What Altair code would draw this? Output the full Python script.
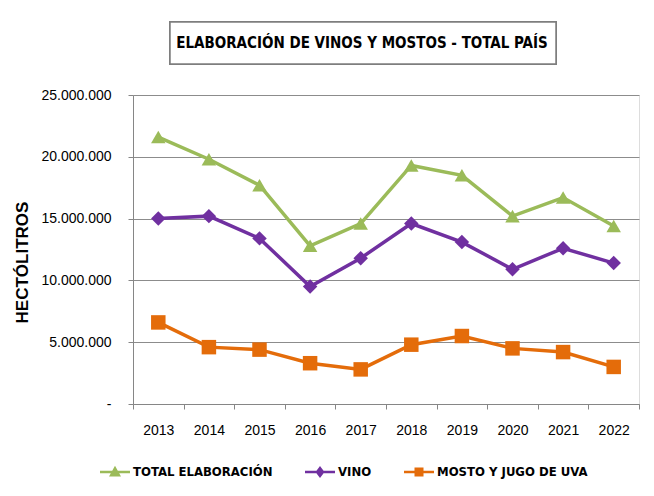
import altair as alt
import pandas as pd

years = ["2013", "2014", "2015", "2016", "2017", "2018", "2019", "2020", "2021", "2022"]
total = [21600000, 19800000, 17700000, 12800000, 14600000, 19300000, 18500000, 15200000, 16700000, 14400000]
vino = [15000000, 15200000, 13400000, 9500000, 11800000, 14600000, 13100000, 10900000, 12600000, 11400000]
mosto = [6600000, 4600000, 4400000, 3300000, 2800000, 4800000, 5500000, 4500000, 4200000, 3000000]
series = ["TOTAL ELABORACIÓN", "VINO", "MOSTO Y JUGO DE UVA"]
colors = ["#9BBB59", "#7030A0", "#E46C0A"]
shapes = ["triangle-up", "diamond", "square"]
legend_paths = [
    "M-1,-0.09H1V0.09H-1Z M0,-0.42L0.4,0.3H-0.4Z",
    "M-1,-0.09H1V0.09H-1Z M0,-0.4L0.3,0L0,0.4L-0.3,0Z",
    "M-1,-0.09H1V0.09H-1Z M-0.3,-0.3H0.3V0.3H-0.3Z",
]
title_text = ["ELABORACIÓN DE VINOS Y MOSTOS - TOTAL PAÍS"]

rows = []
for name, vals in zip(series, [total, vino, mosto]):
    for y, v in zip(years, vals):
        rows.append({"year": y, "value": v, "series": name})
df = pd.DataFrame(rows)

FONT = "DejaVu Sans Condensed"

x_enc = alt.X(
    "year:O",
    scale=alt.Scale(type="band", paddingInner=0, paddingOuter=0, domain=years),
    bandPosition=0.5,
    axis=alt.Axis(
        title=None, labelAngle=0, tickBand="extent", tickSize=5, labelPadding=14,
        labelFontSize=14, labelFont="Liberation Sans", labelColor="#000",
        domainColor="#868686", tickColor="#868686", grid=False,
    ),
)
y_enc = alt.Y(
    "value:Q",
    scale=alt.Scale(domain=[0, 25000000]),
    axis=alt.Axis(
        title="HECTÓLITROS", titleFontSize=17, titleFont="Liberation Sans", titleFontWeight="bold",
        titleColor="#000", titlePadding=9, titleY=167,
        values=[0, 5000000, 10000000, 15000000, 20000000, 25000000],
        labelExpr="datum.value == 0 ? '-' : replace(format(datum.value, ','), regexp(',', 'g'), '.')",
        labelFontSize=14, labelFont="Liberation Sans", labelColor="#000", labelPadding=17,
        tickSize=5, tickColor="#868686", domainColor="#868686",
        grid=True, gridColor="#8C8C8C", gridWidth=1,
    ),
)
color_plain = alt.Color("series:N", scale=alt.Scale(domain=series, range=colors), legend=None)

lines = alt.Chart(df).mark_line(strokeWidth=3.5).encode(x=x_enc, y=y_enc, color=color_plain)
points = alt.Chart(df).mark_point(filled=True, size=210, opacity=1).encode(
    x=x_enc, y=y_enc, color=color_plain,
    shape=alt.Shape("series:N", scale=alt.Scale(domain=series, range=shapes), legend=None),
)

leg = dict(
    title=None, orient="none", legendX=-33, legendY=362, direction="horizontal",
    symbolSize=900, symbolStrokeWidth=0, symbolOpacity=1, labelFont=FONT, labelFontSize=13,
    labelFontWeight="bold", labelColor="#000", labelOffset=3, columnPadding=32, labelLimit=400,
)
legend_layer = alt.Chart(df).mark_point(filled=True).encode(
    x=x_enc, y=y_enc,
    color=alt.Color("series:N", scale=alt.Scale(domain=series, range=colors), legend=alt.Legend(**leg)),
    shape=alt.Shape("series:N", scale=alt.Scale(domain=series, range=legend_paths), legend=alt.Legend(**leg)),
).transform_filter("false")

title_box = alt.Chart(df).mark_rect(fill="white", stroke="#7F7F7F", strokeWidth=1.5).encode(
    x=alt.value(37), x2=alt.value(423), y=alt.value(-73), y2=alt.value(-31)
)
title_mark = alt.Chart(pd.DataFrame({"t": title_text})).mark_text(
    font=FONT, fontSize=15, fontWeight="bold", color="#000", align="center", baseline="middle"
).encode(text="t:N", x=alt.value(229), y=alt.value(-52))

chart = alt.layer(title_box, title_mark, lines, points, legend_layer).resolve_scale(
    color="independent", shape="independent"
).properties(
    width=506, height=309,
    autosize=alt.AutoSizeParams(type="none"),
    padding={"left": 125, "top": 87, "right": 7, "bottom": 84},
).configure_view(fill="#F2F2F2", stroke=None).configure(background="white")

chart.save("out.html", embed_options={"renderer": "svg", "actions": False})
